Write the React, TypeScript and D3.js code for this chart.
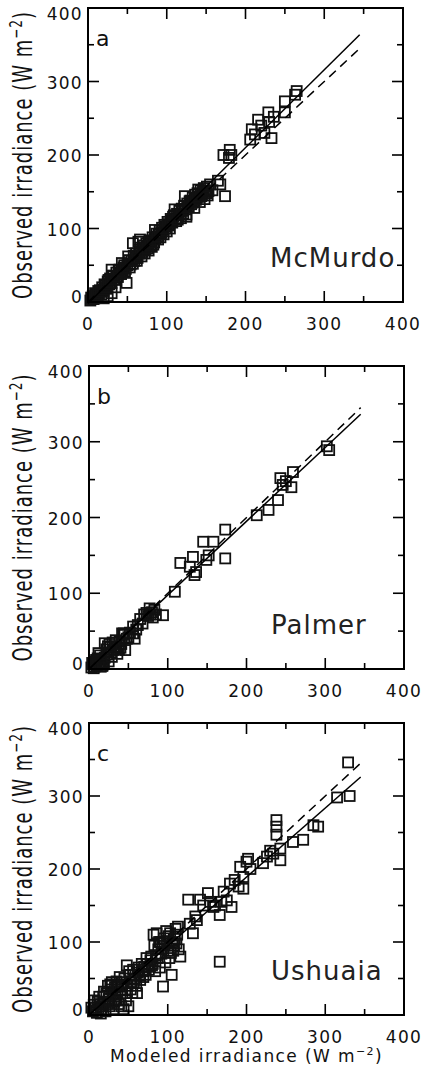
import React from 'react';
import * as d3 from 'd3';

// ---------- data ----------
const mcmurdoModeled = [3, 5, 6, 8, 10, 12, 14, 15, 17, 18, 20, 20, 22, 24, 25, 25, 27, 28, 30, 30, 30, 32, 34, 35, 36, 38, 40, 41, 42, 43, 45, 47, 49, 50, 51, 53, 55, 57, 57, 60, 62, 64, 65, 66, 66, 68, 70, 72, 75, 77, 80, 81, 83, 85, 86, 89, 90, 92, 95, 98, 100, 102, 104, 106, 108, 110, 112, 115, 118, 120, 123, 125, 125, 128, 130, 132, 135, 138, 140, 142, 144, 146, 148, 150, 152, 158, 165, 168, 172, 174, 179, 180, 182, 206, 208, 212, 216, 220, 224, 229, 230, 233, 236, 250, 250, 263, 265,
  4, 7, 9, 11, 13, 16, 19, 21, 23, 26, 29, 31, 33, 37, 39, 44, 46, 48, 52, 54, 58, 59, 61, 63, 67, 69, 71, 73, 74, 76, 78, 79, 82, 84, 87, 88, 91, 93, 94, 96, 97, 99, 101, 103, 105, 107, 109, 111, 113, 114, 116, 117, 119, 121, 122, 124, 126, 127, 129, 131, 133, 134, 136, 137, 139, 141, 143, 145, 147, 149, 151, 153, 155];
const mcmurdoObserved = [2, 4, 8, 5, 10, 7, 12, 16, 10, 20, 15, 5, 22, 18, 28, 8, 24, 32, 26, 44, 12, 35, 30, 20, 40, 34, 44, 40, 38, 53, 47, 42, 26, 50, 62, 47, 56, 52, 80, 60, 56, 82, 66, 71, 85, 62, 72, 66, 76, 70, 82, 75, 78, 98, 86, 85, 92, 88, 98, 103, 96, 106, 100, 111, 116, 126, 110, 118, 114, 124, 144, 119, 116, 130, 138, 135, 128, 142, 153, 136, 144, 150, 140, 148, 145, 152, 165, 160, 200, 144, 196, 207, 200, 221, 235, 228, 248, 240, 230, 258, 245, 223, 252, 258, 273, 282, 287,
  6, 4, 12, 9, 15, 14, 17, 24, 20, 30, 27, 36, 31, 35, 43, 41, 50, 45, 57, 51, 63, 56, 66, 60, 74, 68, 77, 72, 80, 73, 84, 77, 88, 81, 93, 89, 97, 94, 101, 92, 105, 100, 109, 104, 113, 108, 118, 113, 120, 112, 124, 119, 127, 120, 131, 126, 134, 129, 137, 133, 142, 136, 146, 139, 148, 143, 152, 147, 155, 150, 157, 151, 160];

const palmerModeled = [3, 5, 7, 8, 10, 11, 12, 13, 15, 16, 18, 20, 20, 22, 24, 25, 27, 28, 30, 31, 33, 35, 36, 39, 40, 42, 44, 46, 48, 50, 56, 56, 58, 60, 65, 68, 73, 75, 77, 80, 81, 85, 94, 109, 116, 128, 132, 134, 136, 145, 149, 152, 158, 173, 173, 213, 228, 240, 243, 246, 250, 257, 259, 302, 305,
  4, 6, 9, 14, 17, 19, 23, 26, 29, 34, 38, 41, 45, 52, 62, 70, 78, 83];
const palmerObserved = [2, 6, 3, 10, 5, 14, 21, 8, 3, 12, 6, 34, 15, 26, 30, 10, 29, 22, 35, 25, 30, 28, 20, 36, 28, 47, 47, 25, 40, 42, 56, 47, 40, 52, 66, 60, 74, 70, 80, 75, 68, 72, 71, 102, 140, 135, 148, 124, 128, 168, 144, 150, 168, 184, 146, 203, 210, 223, 252, 243, 248, 240, 260, 294, 289,
  8, 1, 12, 18, 4, 9, 19, 33, 16, 38, 26, 33, 45, 48, 58, 72, 72, 78];

const ushuaiaModeled = [5, 6, 8, 10, 12, 14, 15, 17, 18, 20, 21, 22, 24, 25, 26, 28, 29, 30, 31, 33, 34, 35, 36, 38, 40, 40, 42, 44, 45, 46, 47, 48, 49, 50, 52, 54, 55, 56, 58, 60, 62, 63, 65, 68, 70, 72, 74, 76, 78, 80, 82, 84, 86, 87, 88, 90, 91, 92, 94, 95, 96, 97, 98, 100, 101, 102, 104, 105, 106, 108, 110, 113, 114, 116, 126, 128, 132, 135, 137, 141, 145, 151, 154, 158, 160, 166, 166, 168, 171, 175, 179, 181, 185, 190, 192, 196, 196, 200, 202, 205, 221, 226, 230, 234, 238, 238, 238, 243, 243, 259, 272, 285, 291, 315, 331, 329,
  3, 7, 9, 11, 13, 16, 19, 23, 27, 32, 37, 39, 41, 43, 51, 53, 57, 59, 61, 64, 67, 69, 71, 73, 77, 79, 81, 83, 85, 89, 93, 99, 103, 107, 109, 111, 112];
const ushuaiaObserved = [5, 14, 10, 3, 8, 15, 2, 12, 25, 18, 5, 30, 40, 22, 12, 35, 45, 28, 8, 38, 20, 46, 30, 15, 42, 25, 35, 8, 50, 30, 20, 68, 40, 12, 55, 45, 30, 62, 50, 40, 58, 65, 48, 60, 66, 55, 70, 62, 75, 68, 110, 60, 112, 78, 90, 65, 100, 84, 39, 105, 95, 72, 115, 88, 108, 78, 85, 55, 100, 95, 118, 121, 90, 80, 158, 125, 112, 135, 130, 158, 150, 167, 155, 148, 150, 137, 73, 155, 169, 157, 180, 148, 185, 176, 203, 189, 173, 210, 214, 200, 208, 217, 225, 221, 267, 258, 247, 212, 228, 237, 240, 260, 258, 298, 300, 346,
  10, 20, 6, 18, 25, 8, 32, 15, 42, 18, 40, 52, 12, 45, 60, 35, 45, 55, 30, 54, 70, 52, 62, 78, 66, 80, 70, 95, 82, 100, 95, 98, 112, 88, 105, 98, 110];

const majorTicks = [0, 100, 200, 300, 400];
const minorTicks = [50, 150, 250, 350];
const axisDomain = [0, 400];
const panelLetters = ['a', 'b', 'c'];
const stationNames = ['McMurdo', 'Palmer', 'Ushuaia'];
const fitSlopes = [1.06, 0.975, 0.945];
const fitIntercepts = [-2, 0, 0];
const oneToOneSlope = [1, 1, 1];
const lineExtent = [0, 345];

const FONT = "'DejaVu Sans', sans-serif";

type Frame = { left: number; right: number; top: number; bottom: number };

function Panel({ frame, xs, ys, idx, showXTitle }: { frame: Frame; xs: number[]; ys: number[]; idx: number; showXTitle: boolean }) {
  const x = d3.scaleLinear().domain(axisDomain).range([frame.left, frame.right]);
  const y = d3.scaleLinear().domain(axisDomain).range([frame.bottom, frame.top]);
  const majorLen = 11;
  const minorLen = 6;
  const sq = 10;

  const fitPts: [number, number][] = lineExtent.map((v) => [v, fitSlopes[idx] * v + fitIntercepts[idx]]);
  const onePts: [number, number][] = lineExtent.map((v) => [v, oneToOneSlope[idx] * v]);
  const line = d3.line<[number, number]>().x((d) => x(d[0])).y((d) => y(d[1]));

  const ticks: React.ReactNode[] = [];
  const addTicks = (vals: number[], len: number, key: string) => {
    vals.forEach((v, i) => {
      const px = x(v);
      const py = y(v);
      ticks.push(<line key={`${key}b${i}`} x1={px} x2={px} y1={frame.bottom} y2={frame.bottom - len} />);
      ticks.push(<line key={`${key}t${i}`} x1={px} x2={px} y1={frame.top} y2={frame.top + len} />);
      ticks.push(<line key={`${key}l${i}`} x1={frame.left} x2={frame.left + len} y1={py} y2={py} />);
      ticks.push(<line key={`${key}r${i}`} x1={frame.right} x2={frame.right - len} y1={py} y2={py} />);
    });
  };
  addTicks(majorTicks.slice(1, -1), majorLen, 'M');
  addTicks(minorTicks, minorLen, 'm');

  const cy = (frame.top + frame.bottom) / 2;
  const cx = (frame.left + frame.right) / 2;

  return (
    <g>
      <g fill="none" stroke="#111" strokeWidth={1.8}>
        {xs.map((v, i) => (
          <rect key={i} x={x(v) - sq / 2} y={y(ys[i]) - sq / 2} width={sq} height={sq} />
        ))}
      </g>
      <path d={line(fitPts) || ''} fill="none" stroke="#000" strokeWidth={1.5} />
      <path d={line(onePts) || ''} fill="none" stroke="#000" strokeWidth={1.5} strokeDasharray="9,6" />
      <rect x={frame.left} y={frame.top} width={frame.right - frame.left} height={frame.bottom - frame.top} fill="none" stroke="#000" strokeWidth={2} />
      <g stroke="#000" strokeWidth={1.6}>{ticks}</g>
      <g fontFamily={FONT} fontSize={17} fill="#111" letterSpacing={1.3}>
        {majorTicks.map((v) => (
          <text key={`xl${v}`} x={x(v)} y={frame.bottom + 28} textAnchor="middle">{v}</text>
        ))}
        {majorTicks.map((v) => (
          <text key={`yl${v}`} x={frame.left - 5} y={y(v) + (v === 0 ? -5 : v === 400 ? 6 : 1)} textAnchor="end" dominantBaseline="central">{v}</text>
        ))}
      </g>
      <text
        transform={`translate(32, ${cy}) scale(1.45,1) rotate(-90)`}
        textAnchor="middle"
        fontFamily={FONT}
        fontSize={18}
        letterSpacing={1}
        fill="#111"
      >
        Observed irradiance (W m<tspan fontSize={12} dy={-7}>−2</tspan><tspan dy={7}>)</tspan>
      </text>
      {showXTitle && (
        <text x={cx} y={frame.bottom + 47} textAnchor="middle" fontFamily={FONT} fontSize={17} letterSpacing={1.4} fill="#111">
          Modeled irradiance (W m<tspan fontSize={11} dy={-7}>−2</tspan><tspan dy={7}>)</tspan>
        </text>
      )}
      <text x={frame.left + 8} y={frame.top + 38} fontFamily={FONT} fontSize={22} fill="#111">{panelLetters[idx]}</text>
      <text x={frame.left + 182} y={frame.bottom - 35} fontFamily={FONT} fontSize={26} letterSpacing={1} fill="#222">{stationNames[idx]}</text>
    </g>
  );
}

export default function App() {
  const frames: Frame[] = [
    { left: 88, right: 403, top: 8, bottom: 302 },
    { left: 89, right: 404, top: 366, bottom: 669 },
    { left: 89, right: 404, top: 723, bottom: 1015 },
  ];
  const xsAll = [mcmurdoModeled, palmerModeled, ushuaiaModeled];
  const ysAll = [mcmurdoObserved, palmerObserved, ushuaiaObserved];
  return (
    <svg width={423} height={1077} style={{ position: 'absolute', left: 0, top: 0, background: '#fff' }}>
      <rect x={0} y={0} width={423} height={1077} fill="#fff" />
      {frames.map((f, i) => (
        <Panel key={i} frame={f} xs={xsAll[i]} ys={ysAll[i]} idx={i} showXTitle={i === 2} />
      ))}
    </svg>
  );
}
